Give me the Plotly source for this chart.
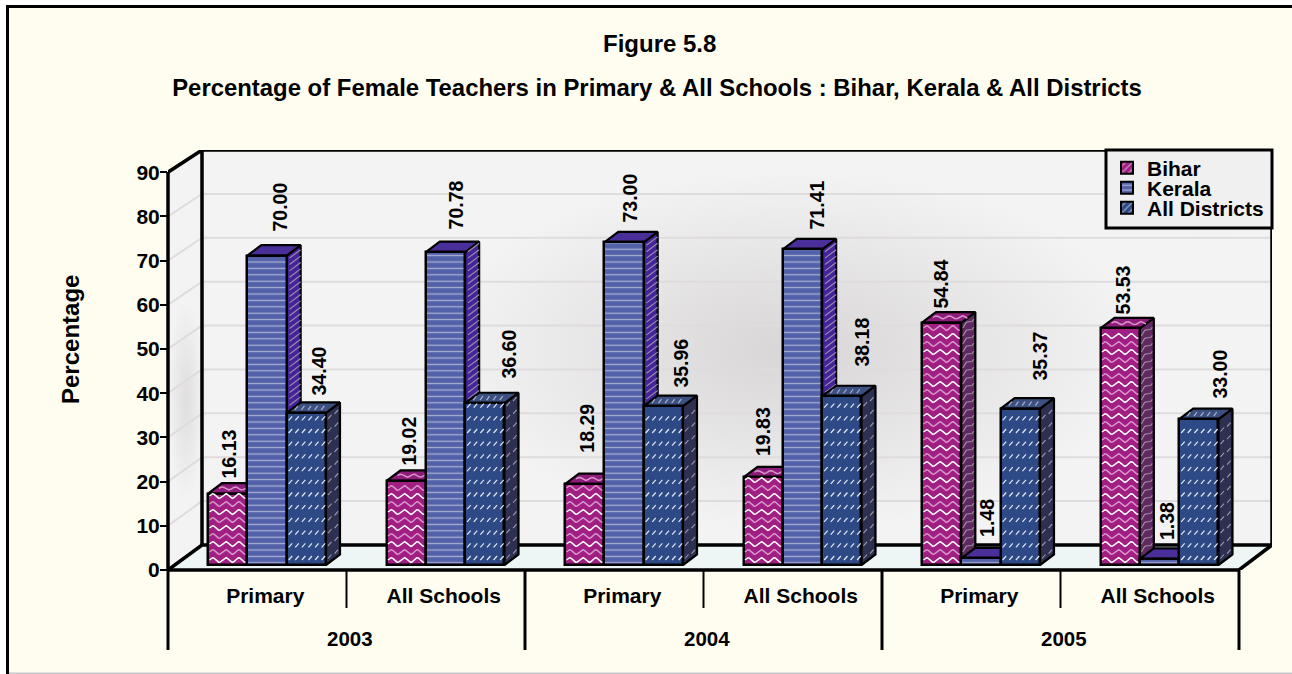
import math
import plotly.graph_objects as go

# ---------- data ----------
years = ["2003", "2004", "2005"]
school_types = ["Primary", "All Schools"]
categories = ["Primary", "All Schools"] * 3
bihar = [16.13, 19.02, 18.29, 19.83, 54.84, 53.53]
kerala = [70.00, 70.78, 73.00, 71.41, 1.48, 1.38]
all_districts = [34.40, 36.60, 35.96, 38.18, 35.37, 33.00]
y_ticks = [0, 10, 20, 30, 40, 50, 60, 70, 80, 90]

# ---------- geometry (pixels, for layout only) ----------
W, H = 1292, 674
PL, PR, PT, PB = 168, 1272, 150, 570
PX_X, PX_Y = 178.5, 4.42
ux, uy = 1 / PX_X, 1 / PX_Y
YMAX = (PB - PT) * uy
XMAX = (PR - PL) * ux
BASE = 5 * uy
BAR_W = 39.33 * ux
BAR0 = 40 * ux
DX, DY = 14 * ux, 10.5 * uy
WALL_X, WALL_Y = 34 * ux, 25 * uy
INK = "#000000"
FONT = "Liberation Sans"

# label placement relative to each bar (pixels)
label_dx = [[1.3, 2.8, 2.3, 0, -0.7, 2.8],
            [12, 10.5, 6, 14.5, 6, 7.5],
            [12.7, 23.2, 17.7, 20.2, 19.7, 21.2]]
label_up = [[13.7, 13.9, 30, 19, 12.6, 12.4],
            [21.6, 20.2, 18.3, 17.4, 19.5, 16.9],
            [15, 22.2, 16, 27.2, 25.7, 18.1]]


def px(x):
    return (x - PL) / (PR - PL)


def py(y):
    return (PB - y) / (PB - PT)


def dx_of(x):
    return (x - PL) * ux


def dy_of(y):
    return (PB - y) * uy


fig = go.Figure()


def poly(xs, ys, fill, line=INK, lw=2.2, z=0):
    fig.add_trace(go.Scatter(x=xs, y=ys, mode="lines", fill="toself", fillcolor=fill,
                             line=dict(color=line, width=lw), hoverinfo="skip",
                             showlegend=False, cliponaxis=False, zorder=z))


def lines(xs, ys, color, lw=1.5, z=0):
    fig.add_trace(go.Scatter(x=xs, y=ys, mode="lines", line=dict(color=color, width=lw),
                             hoverinfo="skip", showlegend=False, cliponaxis=False,
                             connectgaps=False, zorder=z))


def blob(x0, x1, y0, y1, color_rgb, alpha):
    a, b, c, d = dx_of(x0), dx_of(x1), dy_of(y1), dy_of(y0)
    fig.add_trace(go.Scatter(x=[a, b, b, a, a], y=[c, c, d, d, c], mode="none", fill="toself",
                             fillgradient=dict(type="radial",
                                               colorscale=[[0, f"rgba({color_rgb},{alpha})"],
                                                           [1, f"rgba({color_rgb},0)"]]),
                             hoverinfo="skip", showlegend=False, zorder=-5))


# ---------- walls and floor ----------
poly([0, WALL_X, WALL_X, 0, 0], [0, WALL_Y, YMAX, 90, 0], "#F4F3F4", line="rgba(0,0,0,0)", lw=0, z=-6)
poly([WALL_X, XMAX, XMAX, WALL_X, WALL_X], [WALL_Y, WALL_Y, YMAX, YMAX, WALL_Y], "#F4F3F4",
     line="rgba(0,0,0,0)", lw=0, z=-6)
blob(440, 1140, 170, 530, "214,212,212", 0.95)
blob(168, 204, 300, 500, "214,212,212", 0.7)
blob(1150, 1272, 155, 235, "214,212,212", 0.5)
fx = dx_of(1239)
poly([0, WALL_X, XMAX, fx, 0], [0, WALL_Y, WALL_Y, 0, 0], "#EDF5F5", line="rgba(0,0,0,0)", lw=0, z=-4)

gx, gy = [], []
for t in y_ticks[1:]:
    yb = WALL_Y + t * (YMAX - WALL_Y) / 90
    gx += [0, WALL_X, XMAX, None]
    gy += [t, yb, yb, None]
lines(gx, gy, "#DEDCDC", 2, z=-4)
lines([0, WALL_X, WALL_X], [90, YMAX, WALL_Y], INK, 3.5, z=-3)
lines([WALL_X, XMAX, XMAX, fx], [YMAX, YMAX, WALL_Y, 0], INK, 3.5, z=-3)
lines([0, WALL_X, XMAX], [0, WALL_Y, WALL_Y], INK, 3.5, z=-3)


# ---------- decorative texture helpers ----------
def wave(x0, x1, y0, y1, skew=0.0, step_px=16, start_px=5):
    xs, ys = [], []
    yy = y0 + start_px * uy
    while yy < y1 - 1 * uy:
        n = 24
        for k in range(n + 1):
            f = k / n
            xp = (x1 - x0) * f
            xs.append(x0 + xp)
            ys.append(yy + skew * f + 2.3 * uy * math.sin(xp / ux / 13 * 2 * math.pi))
        xs.append(None)
        ys.append(None)
        yy += step_px * uy
    return xs, ys


def slashes(x0, x1, y0, y1, skew=0.0, step_px=12.7, gap_px=6.6):
    xs, ys = [], []
    yy = y0 + 5 * uy
    while yy < y1 - 3 * uy:
        xp = 2 * ux
        while x0 + xp + 4 * ux < x1:
            f = xp / (x1 - x0)
            xs += [x0 + xp, x0 + xp + 3.5 * ux, None]
            ys += [yy + skew * f, yy + skew * f + 4 * uy, None]
            xp += gap_px * ux
        yy += step_px * uy
    return xs, ys


def rungs(x0, x1, y0, y1, skew=0.0, step_px=6.4):
    xs, ys = [], []
    yy = y0 + 4 * uy
    while yy < y1:
        xs += [x0 + (x1 - x0) * 0.2, x1, None]
        ys += [yy + skew * 0.2, yy + skew, None]
        yy += step_px * uy
    return xs, ys


series = [
    dict(name="Bihar", v=bihar, front="#A11F83", side="#5F2A62", top="#8E1C7A", tex="wave"),
    dict(name="Kerala", v=kerala, front="#5261A9", side="#45249A", top="#4A2F9A", tex="lines"),
    dict(name="All Districts", v=all_districts, front="#2E4A86", side="#2E3052", top="#3D5082", tex="slash"),
]

for si, s in enumerate(series):
    z = 1 + si * 3
    xs = [i + BAR0 + si * BAR_W + BAR_W / 2 for i in range(6)]
    tops = [BASE + v for v in s["v"]]
    # depth faces
    for x, t in zip(xs, tops):
        l, r = x - BAR_W / 2, x + BAR_W / 2
        poly([r, r + DX, r + DX, r, r], [BASE, BASE + DY, t + DY, t, BASE], s["side"], z=z)
        poly([l, l + DX, r + DX, r, l], [t, t + DY, t + DY, t, t], s["top"], z=z)
    # front faces
    pattern = dict(shape="-", size=6.4, solidity=0.2, fgcolor="#FFFFFF", bgcolor=s["front"]) if s["tex"] == "lines" else None
    fig.add_trace(go.Bar(x=xs, y=s["v"], base=[BASE] * 6, width=BAR_W, name=s["name"],
                         marker=dict(color=s["front"], line=dict(color=INK, width=2.5),
                                     **({"pattern": pattern} if pattern else {})),
                         showlegend=False, zorder=z + 1))
    # textures
    tx, ty, tx2, ty2, sx, sy = [], [], [], [], [], []
    for x, t in zip(xs, tops):
        l, r = x - BAR_W / 2, x + BAR_W / 2
        if s["tex"] == "wave":
            a, b = wave(l + 1.5 * ux, r - 1.5 * ux, BASE, t - 1 * uy)
            a2, b2 = wave(l + 1.5 * ux, r - 1.5 * ux, BASE, t - 1 * uy, start_px=13)
            c, d = wave(r + 1.5 * ux, r + DX - 1.5 * ux, BASE, t, skew=DY, step_px=8)
            # one wave across the top face
            e = [l + 4 * ux + (r - l) * k / 16 + DX / 2 for k in range(15)] + [None]
            f = [t + DY / 2 + 1.5 * uy * math.sin(k / 16 * 3 * 2 * math.pi) for k in range(15)] + [None]
            tx2 += a2 + e
            ty2 += b2 + f
        elif s["tex"] == "slash":
            a, b = slashes(l, r, BASE, t)
            c, d = slashes(r, r + DX, BASE, t, skew=DY)
            e, f = [], []
            xp = 4
            while xp < 36:
                e += [l + DX * 0.3 + xp * ux, l + DX * 0.3 + (xp + 3) * ux, None]
                f += [t + 3 * uy, t + 7 * uy, None]
                xp += 6.6
            tx2 += e
            ty2 += f
        else:
            a, b = [], []
            c, d = rungs(r, r + DX, BASE, t, skew=DY)
        tx += a; ty += b; sx += c; sy += d
    if tx:
        lines(tx, ty, "#FFFFFF" if s["tex"] == "wave" else "#E2E9F6", 1.5 if s["tex"] == "wave" else 1.2, z=z + 2)
    if tx2:
        lines(tx2, ty2, "#D794C8" if s["tex"] == "wave" else "#A8B2CC", 1.5 if s["tex"] == "wave" else 1.2, z=z + 2)
    lines(sx, sy, {"wave": "#A88FA6", "slash": "#9C9CA8", "lines": "#9A90AE"}[s["tex"]], 1.1, z=z + 2)
    # legend swatches
    leg = ["legend", "legend2", "legend3"][si]
    fig.add_trace(go.Bar(x=[None], y=[None], name=s["name"], legend=leg, showlegend=True,
                         marker=dict(color=s["front"], line=dict(color=INK, width=2),
                                     pattern=dict(shape={"wave": "/", "lines": "-", "slash": "/"}[s["tex"]],
                                                  size=6, solidity=0.25, fgcolor="#FFFFFF", bgcolor=s["front"]))))
    # value labels
    for i, (x, t, v) in enumerate(zip(xs, tops, s["v"])):
        fig.add_annotation(x=x + label_dx[si][i] * ux, y=t, text=f"{v:.2f}", textangle=-90, showarrow=False,
                           xanchor="center", yanchor="bottom", yshift=label_up[si][i],
                           font=dict(family=FONT, size=19.5, color=INK, weight="bold"))

# ---------- frame and dividers ----------
shapes = [
    dict(type="rect", xref="paper", yref="paper", x0=px(0), x1=px(W), y0=py(0), y1=py(5), fillcolor="#FFFFFF", line_width=0, layer="below"),
    dict(type="rect", xref="paper", yref="paper", x0=px(0), x1=px(6), y0=py(0), y1=py(H), fillcolor="#FFFFFF", line_width=0, layer="below"),
    dict(type="rect", xref="paper", yref="paper", x0=px(6), x1=px(W), y0=py(5), y1=py(8), fillcolor=INK, line_width=0, layer="below"),
    dict(type="rect", xref="paper", yref="paper", x0=px(6), x1=px(9), y0=py(5), y1=py(H), fillcolor=INK, line_width=0, layer="below"),
    dict(type="rect", xref="paper", yref="paper", x0=px(9), x1=px(W), y0=py(672.5), y1=py(H), fillcolor="#C8C8C8", line_width=0, layer="below"),
    # legend box
    dict(type="rect", xref="paper", yref="paper", x0=px(1106), x1=px(1272), y0=py(150), y1=py(228), fillcolor="#F0F0F1",
         line=dict(color=INK, width=3), layer="above"),
    # baseline and category dividers
    dict(type="line", xref="paper", yref="paper", x0=px(168), x1=px(1239), y0=py(570), y1=py(570), line=dict(color=INK, width=3.5), layer="above"),
    dict(type="line", xref="paper", yref="paper", x0=px(168), x1=px(168), y0=py(172), y1=py(570), line=dict(color=INK, width=3.5), layer="above"),
]
for i in range(7):
    bottom = 650 if i % 2 == 0 else 608
    xp = PL + i * PX_X
    shapes.append(dict(type="line", xref="paper", yref="paper", x0=px(xp), x1=px(xp), y0=py(570), y1=py(bottom),
                       line=dict(color=INK, width=3 if i % 2 == 0 else 2), layer="above"))

for i, yr in enumerate(years):
    fig.add_annotation(x=2 * i + 1 + 3 * ux, y=py(638), yref="paper", yanchor="middle", text=yr, showarrow=False,
                       font=dict(family=FONT, size=20.5, color=INK, weight="bold"))
fig.add_annotation(x=px(659), xref="paper", xanchor="center", y=py(43), yref="paper", yanchor="middle", text="Figure 5.8",
                   showarrow=False, font=dict(family=FONT, size=24, color=INK, weight="bold"))
fig.add_annotation(x=px(70), xref="paper", xanchor="center", y=py(340), yref="paper", yanchor="middle", text="Percentage",
                   textangle=-90, showarrow=False, font=dict(family=FONT, size=24, color=INK, weight="bold"))


def legend_at(y):
    return dict(x=px(1107), y=py(y), xanchor="left", yanchor="middle", bgcolor="rgba(0,0,0,0)", borderwidth=0,
                font=dict(family=FONT, size=21, color=INK, weight="bold"), itemclick=False, itemdoubleclick=False)


fig.update_layout(
    width=W, height=H,
    margin=dict(l=PL, r=W - PR, t=PT, b=H - PB),
    paper_bgcolor="#FFFDF0", plot_bgcolor="rgba(0,0,0,0)",
    barmode="overlay", bargap=0,
    title=dict(text="Percentage of Female Teachers in Primary & All Schools : Bihar, Kerala & All Districts",
               x=657 / W, xanchor="center", y=1 - 88 / H, yanchor="middle",
               font=dict(family=FONT, size=23.9, color=INK, weight="bold")),
    shapes=shapes,
    legend=legend_at(168), legend2=legend_at(188), legend3=legend_at(208),
    xaxis=dict(range=[0, XMAX], showgrid=False, zeroline=False, showline=False,
               tickmode="array", tickvals=[i + 0.5 + 8 * ux for i in range(6)], ticktext=categories,
               ticks="outside", ticklen=7, tickcolor="rgba(0,0,0,0)",
               tickfont=dict(family=FONT, size=21, color=INK, weight="bold")),
    yaxis=dict(range=[0, YMAX], showgrid=False, zeroline=False, showline=False,
               tickmode="array", tickvals=y_ticks, ticks="outside", ticklen=7, tickwidth=2, tickcolor=INK,
               ticklabelstandoff=-4,
               tickfont=dict(family=FONT, size=21, color=INK, weight="bold")),
)
fig.write_html("out.html", config={"displayModeBar": False},
               post_script="document.documentElement.style.margin='0';document.body.style.margin='0';document.documentElement.style.overflow='hidden';")
